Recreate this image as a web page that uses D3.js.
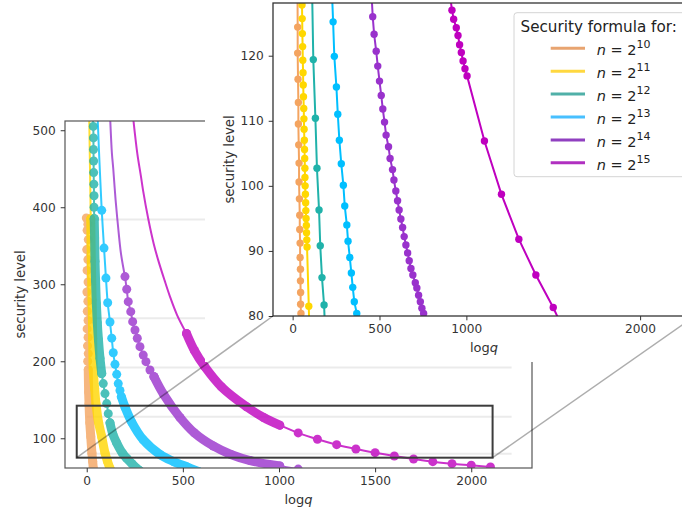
<!DOCTYPE html>
<html>
<head>
<meta charset="utf-8">
<script src="https://cdn.jsdelivr.net/npm/d3@7"></script>
<style>
  body { margin: 0; background: #fff; }
  svg { display: block; font-family: "DejaVu Sans", sans-serif; }
</style>
</head>
<body>
<svg></svg>
<script>

// ---- data: [log q, security level] ----

var exponents = [10, 11, 12, 13, 14, 15];
var mainXTicks = [0, 500, 1000, 1500, 2000];
var mainYTicks = [100, 200, 300, 400, 500];
var insetXTicks = [0, 500, 1000, 2000];
var insetYTicks = [80, 90, 100, 110, 120];
var guideLevels = [384, 256, 192, 128, 80];
var guideSpan = [0, 2210];
var zoomBoxX = [-52, 2111];
var zoomBoxY = [74.8, 142.3];

// main axes, n = 2^10
var main10Line = [];
var main10Dots = [[-2,386],[6,378],[2,370],[8,358],[0,345],[6,332],[2,318],[7,303],[1,290],[6,278],
                  [3,265],[7,253],[2,242],[7,231],[4,220],[8,210],[5,200]];
var main10Band = [[8,189],[10,160],[12,145],[16,120],[21,102],[27,81],[31,70],[34,61],[36,55]];

// n = 2^11
var main11Line = [[13,515],[17,450],[21,385]];
var main11Dots = [];
var main11Band = [[21,385],[24,330],[28,280],[31,230],[34,189],[41,165],[48,145],[62,120],[78,102],
                  [95,81],[108,70],[121,61],[128,57]];

// n = 2^12
var main12Line = [[32,515]];
var main12Dots = [[34,505],[35,490],[35,475],[36,460],[36,445],[37,430],[38,415],[38,400],[39,385],
                  [86,171],[95,158],[104,145],[112,132]];
var main12Band = [[39,385],[41,360],[43,330],[46,305],[50,275],[55,250],[61,228],[69,204],[78,184]];
var main12Band2 = [[121,120],[135,106],[156,94],[185,81],[208,74],[235,67],[260,61],[275,58]];

// n = 2^13
var main13Line = [[57,515],[66,460],[78,396]];
var main13Dots = [[78,396],[90,347],[100,308],[109,276],[121,251],[130,230],[138,211],[147,196],
                  [156,183],[164,171],[173,162]];
var main13Band = [[180,154],[200,140],[234,121],[294,98],[381,79],[450,70],[519,63],[580,57]];

// n = 2^14
var main14Line = [[122,515],[131,470],[138,450],[150,410],[163,375],[178,340],[199,310]];
var main14Dots = [[199,310],[208,293.5],[216,277.4],[229,264.4],[239,251.4],[251,240.6],[263,229.9],
                  [277,219],[294,208],[308,199.5],[329,188.7],[350,180],[1100,60]];
var main14Band = [[350,180],[400,157],[485,127],[560,107],[658,90],[750,79],[850,71],[1004,64]];

// n = 2^15
var main15Line = [[242,515],[263,470],[282,440],[293,422],[320,385],[348,353],[371,332],[405,305],
                  [433,284],[470,260],[519,236]];
var main15Dots = [[1100,107],[1200,98.7],[1300,91.7],[1400,86.1],[1500,81.3],[1600,77],[1700,73.1],
                  [1800,69.6],[1900,67],[2000,64.9],[2100,62.7]];
var main15Band = [[519,236],[560,214],[614,193],[700,167],[831,141],[920,127],[1004,117]];

// inset axes (80..128)
var inset10Dots = [[29,124.4],[29,120.4],[31,116.4],[33,112.8],[33,109.5],[35,106.3],[37,103.5],
                   [37,100.6],[39,98.0],[41,95.5],[41,93.3],[43,91.2],[43,89.0],[45,87.2],[45,85.4],
                   [46,83.6],[46,81.8],[48,80.4]];
var inset10Ends = [[28,130],[49,79]];
var inset11Dots = [[54,127.8],[55,125.7],[56,123.4],[57.5,121.4],[58.5,119.3],[60,117.4],[61,115.5],
                   [62.5,113.7],[64,111.9],[65,110.3],[66,108.7],[67.5,107],[68.5,105.6],[69.5,104.2],
                   [70.5,102.7],[71,101.3],[72,100],[73.5,98.7],[75,97.4],[76,96.2],[77.5,95],
                   [79,93.9],[80,92.8],[81.5,91.7],[83,90.6],[93,81.5]];
var inset11Ends = [[53,130],[95,79]];
var inset12Dots = [[119,119.4],[131,110.4],[140,102.7],[152,96.3],[159,90.8],[169,85.9],[181,81.7]];
var inset12Ends = [[112,130],[185,79]];
var inset13Dots = [[233,125.2],[240,119.9],[252,115.2],[260,111.0],[269,107.0],[280,103.4],[292,100.1],
                   [300,96.9],[312,94.0],[319,91.5],[329,89.0],[338,86.6],[346,84.4],[355,82.2],[369,80.4]];
var inset13Ends = [[226,130],[372,79]];
var inset14Dots = [[461,126.0],[469,123.3],[481,120.7],[490,118.4],[500,116.1],[510,113.9],[519,111.8],
                   [529,109.8],[538,107.8],[552,106.0],[561,104.2],[575,102.5],[583,100.9],[594,99.2],
                   [604,97.7],[613,96.3],[623,94.9],[633,93.6],[642,92.2],[652,90.9],[662,89.7],
                   [671,88.5],[681,87.3],[692,86.3],[706,85.1],[715,84.3],[725,83.2],[735,82.2],
                   [744,81.2],[754,80.4]];
var inset14Ends = [[453,130],[760,79]];
var inset15Dots = [[917,127],[927,125.6],[942,124.3],[952,123.1],[961,121.7],[971,120.5],[981,119.2],
                   [992,118],[1004,116.9],[1104,106.9],[1202,98.7],[1302,91.8],[1400,86.3],[1500,81.3]];
var inset15Ends = [[903,130],[1540,79]];

// ---- styles ----
var colors = ['#f4a460', '#ffd700', '#20b2aa', '#00bfff', '#9932cc', '#bf00bf'];
var legendColors = ['#e8a470', '#ffd840', '#50b0a8', '#48c0ff', '#9040c0', '#b030c0'];
var textColor = '#333';

var width = 682, height = 510;
var svg = d3.select('svg')
            .attr('width', width)
            .attr('height', height);

var xDomain = [-113, 2316];
var x = d3.scaleLinear().domain(xDomain).range([65, 532]);
var y = d3.scaleLinear().domain([61.4, 512]).range([468, 121]);
var ix = d3.scaleLinear().domain(xDomain).range([273, 695]);
var iy = d3.scaleLinear().domain([80, 128.1]).range([316, 3]);
var fmt = d3.format('d');

var defs = svg.append('defs');
defs.append('clipPath').attr('id', 'clipMain')
    .append('rect').attr('x', 65).attr('y', 121).attr('width', 467).attr('height', 347);
defs.append('clipPath').attr('id', 'clipInset')
    .append('rect').attr('x', 273).attr('y', 3).attr('width', 422).attr('height', 313);

function styleAxis(g, size) {
  g.select('.domain').remove();
  g.selectAll('.tick line').attr('stroke', textColor).attr('stroke-width', 1);
  g.selectAll('.tick text')
   .attr('fill', textColor)
   .style('font-family', '"DejaVu Sans", sans-serif')
   .style('font-size', size + 'px');
}

// ---------- main axes ----------

// faint guide lines
svg.append('g')
   .selectAll('line')
   .data(guideLevels)
   .enter()
     .append('line')
     .attr('x1', x(guideSpan[0]))
     .attr('x2', x(guideSpan[1]))
     .attr('y1', d => y(d))
     .attr('y2', d => y(d))
     .attr('stroke', '#ebebeb')
     .attr('stroke-width', 2);

var mainSeries = [
  {line: main10Line, dots: main10Dots, bands: [main10Band]},
  {line: main11Line, dots: main11Dots, bands: [main11Band]},
  {line: main12Line, dots: main12Dots, bands: [main12Band, main12Band2]},
  {line: main13Line, dots: main13Dots, bands: [main13Band]},
  {line: main14Line, dots: main14Dots, bands: [main14Band]},
  {line: main15Line, dots: main15Dots, bands: [main15Band]}
];

var mainLine = d3.line().x(d => x(d[0])).y(d => y(d[1]));
var mainBand = d3.line().x(d => x(d[0])).y(d => y(d[1])).curve(d3.curveCatmullRom);

var plot = svg.append('g').attr('clip-path', 'url(#clipMain)');

mainSeries.forEach(function(s, i) {
  var g = plot.append('g').attr('opacity', 0.8);
  var bandPts = [].concat.apply([], s.bands);
  var all = s.line.concat(bandPts, s.dots).sort((a, b) => b[1] - a[1]);

  g.append('path')
   .datum(all)
   .attr('d', mainBand)
   .attr('fill', 'none')
   .attr('stroke', colors[i])
   .attr('stroke-width', 2);

  s.bands.forEach(function(b) {
    g.append('path')
     .datum(b)
     .attr('d', mainBand)
     .attr('fill', 'none')
     .attr('stroke', colors[i])
     .attr('stroke-width', 9)
     .attr('stroke-linecap', 'round')
     .attr('stroke-linejoin', 'round');
  });

  g.selectAll('circle')
   .data(bandPts.concat(s.dots))
   .enter()
     .append('circle')
     .attr('cx', d => x(d[0]))
     .attr('cy', d => y(d[1]))
     .attr('r', 4.5)
     .attr('fill', colors[i]);
});

// spines
svg.append('rect')
   .attr('x', 65).attr('y', 121).attr('width', 467).attr('height', 347)
   .attr('fill', 'none').attr('stroke', '#555').attr('stroke-width', 1.2);

var mainX = svg.append('g')
   .attr('transform', 'translate(0,468)')
   .call(d3.axisBottom(x).tickValues(mainXTicks).tickFormat(fmt)
           .tickSize(4.3).tickPadding(4.5).tickSizeOuter(0));
styleAxis(mainX, 12.2);

var mainY = svg.append('g')
   .attr('transform', 'translate(65,0)')
   .call(d3.axisLeft(y).tickValues(mainYTicks).tickFormat(fmt)
           .tickSize(4.3).tickPadding(5).tickSizeOuter(0));
styleAxis(mainY, 12.2);

var xLab = svg.append('text')
   .attr('x', 298.5).attr('y', 504)
   .attr('text-anchor', 'middle')
   .attr('fill', textColor)
   .style('font-size', '13px');
xLab.append('tspan').text('log');
xLab.append('tspan').attr('font-style', 'italic').text('q');

svg.append('text')
   .attr('transform', 'rotate(-90)')
   .attr('x', -294.5).attr('y', 20.5)
   .attr('dy', '0.35em')
   .attr('text-anchor', 'middle')
   .attr('fill', textColor)
   .style('font-size', '13.2px')
   .text('security level');

// zoom box
svg.append('rect')
   .attr('x', x(zoomBoxX[0]))
   .attr('y', y(zoomBoxY[1]))
   .attr('width', x(zoomBoxX[1]) - x(zoomBoxX[0]))
   .attr('height', y(zoomBoxY[0]) - y(zoomBoxY[1]))
   .attr('fill', 'none')
   .attr('stroke', '#3c3c3c')
   .attr('stroke-width', 2);

// ---------- inset ----------
svg.append('rect')
   .attr('x', 205).attr('y', 0).attr('width', 477).attr('height', 362)
   .attr('fill', '#fff');

var insetSeries = [
  {dots: inset10Dots, ends: inset10Ends},
  {dots: inset11Dots, ends: inset11Ends},
  {dots: inset12Dots, ends: inset12Ends},
  {dots: inset13Dots, ends: inset13Ends},
  {dots: inset14Dots, ends: inset14Ends},
  {dots: inset15Dots, ends: inset15Ends}
];

var insetLine = d3.line().x(d => ix(d[0])).y(d => iy(d[1]));
var inset = svg.append('g').attr('clip-path', 'url(#clipInset)');

insetSeries.forEach(function(s, i) {
  var g = inset.append('g');
  var all = s.dots.concat(s.ends).sort((a, b) => b[1] - a[1]);
  g.append('path')
   .datum(all)
   .attr('d', insetLine)
   .attr('fill', 'none')
   .attr('stroke', colors[i])
   .attr('stroke-width', 2);
  g.selectAll('circle')
   .data(s.dots)
   .enter()
     .append('circle')
     .attr('cx', d => ix(d[0]))
     .attr('cy', d => iy(d[1]))
     .attr('r', 3.7)
     .attr('fill', colors[i]);
});

svg.append('rect')
   .attr('x', 273).attr('y', 3).attr('width', 422).attr('height', 313)
   .attr('fill', 'none').attr('stroke', '#333').attr('stroke-width', 1.3);

var insX = svg.append('g')
   .attr('transform', 'translate(0,316)')
   .call(d3.axisBottom(ix).tickValues(insetXTicks).tickFormat(fmt)
           .tickSize(4.3).tickPadding(4.5).tickSizeOuter(0));
styleAxis(insX, 12.2);

var insY = svg.append('g')
   .attr('transform', 'translate(273,0)')
   .call(d3.axisLeft(iy).tickValues(insetYTicks).tickFormat(fmt)
           .tickSize(4.3).tickPadding(5).tickSizeOuter(0));
styleAxis(insY, 12.2);

var ixLab = svg.append('text')
   .attr('x', 484).attr('y', 352)
   .attr('text-anchor', 'middle')
   .attr('fill', textColor)
   .style('font-size', '13px');
ixLab.append('tspan').text('log');
ixLab.append('tspan').attr('font-style', 'italic').text('q');

svg.append('text')
   .attr('transform', 'rotate(-90)')
   .attr('x', -159.5).attr('y', 229)
   .attr('dy', '0.35em')
   .attr('text-anchor', 'middle')
   .attr('fill', textColor)
   .style('font-size', '13.2px')
   .text('security level');

// connector lines from the zoom box to the inset
var connectors = [
  [[x(zoomBoxX[0]), y(zoomBoxY[0])], [ix(xDomain[0]), iy(80)]],
  [[x(zoomBoxX[1]), y(zoomBoxY[0])], [ix(xDomain[1]), iy(80)]]
];
svg.append('g')
   .selectAll('line')
   .data(connectors)
   .enter()
     .append('line')
     .attr('x1', d => d[0][0]).attr('y1', d => d[0][1])
     .attr('x2', d => d[1][0]).attr('y2', d => d[1][1])
     .attr('stroke', '#000')
     .attr('stroke-opacity', 0.32)
     .attr('stroke-width', 1.5);

// ---------- legend ----------
var leg = svg.append('g');
leg.append('rect')
   .attr('x', 514).attr('y', 12.7).attr('width', 190).attr('height', 164)
   .attr('rx', 3)
   .attr('fill', '#fff').attr('fill-opacity', 0.85)
   .attr('stroke', '#d4d4d4').attr('stroke-width', 1);

leg.append('text')
   .attr('x', 520.5).attr('y', 31.5)
   .attr('fill', '#222')
   .style('font-size', '15.2px')
   .text('Security formula for:');

exponents.forEach(function(e, i) {
  var yy = 48.3 + i * 22.9;
  leg.append('line')
     .attr('x1', 550.7).attr('x2', 585)
     .attr('y1', yy).attr('y2', yy)
     .attr('stroke', legendColors[i])
     .attr('stroke-width', 3);
  var t = leg.append('text')
     .attr('x', 596.7).attr('y', yy + 6.7)
     .attr('fill', '#222')
     .style('font-size', '14.5px');
  t.append('tspan').attr('font-style', 'italic').text('n');
  t.append('tspan').text(' = 2');
  t.append('tspan').attr('dy', -7).style('font-size', '11px').text(e);
});

</script>
</body>
</html>
